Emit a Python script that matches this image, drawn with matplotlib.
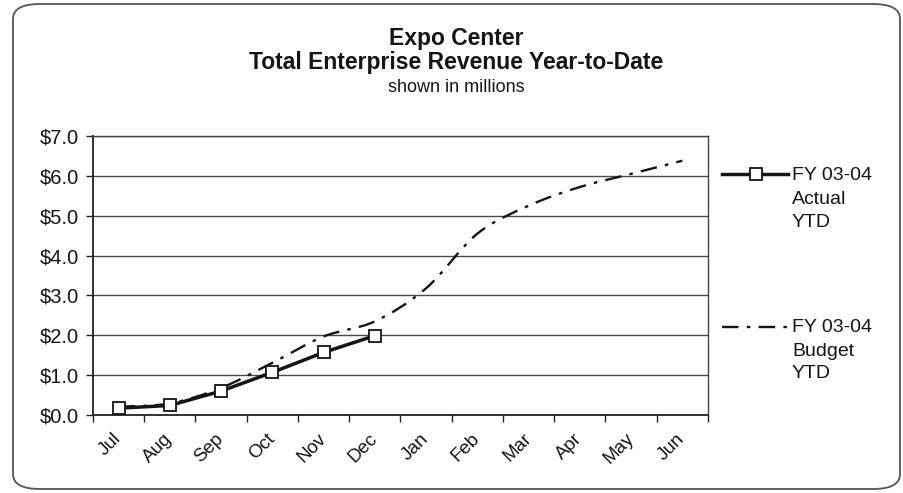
import matplotlib
matplotlib.use("Agg")
import matplotlib.pyplot as plt
import matplotlib.transforms as mtransforms
from matplotlib.path import Path
from matplotlib.patches import PathPatch, FancyBboxPatch
from matplotlib.lines import Line2D
import numpy as np

plt.rcParams['font.family'] = ['Liberation Sans', 'DejaVu Sans']

months = ["Jul", "Aug", "Sep", "Oct", "Nov", "Dec",
          "Jan", "Feb", "Mar", "Apr", "May", "Jun"]
actual_ytd = [0.17, 0.24, 0.60, 1.07, 1.57, 1.99]
budget_ytd = [0.21, 0.29, 0.68, 1.31, 1.97, 2.35,
              3.18, 4.55, 5.25, 5.72, 6.05, 6.38]
y_ticks = [0, 1, 2, 3, 4, 5, 6, 7]

INK = "#151515"
W, H = 904, 493

fig = plt.figure(figsize=(W / 100, H / 100), dpi=100)
fig.patch.set_facecolor("white")

# rounded chart-area border
frame = FancyBboxPatch((13 / W, 4 / H), (900 - 13) / W, (489 - 4) / H,
                       boxstyle="round,pad=0,rounding_size=0.03",
                       transform=fig.transFigure, fill=False,
                       edgecolor="#555555", linewidth=1.3)
fig.patches.append(frame)

ax = fig.add_axes([93 / W, 1 - 415 / H, (708 - 93) / W, (415 - 136) / H])
ax.set_xlim(-0.5, len(months) - 0.5)
ax.set_ylim(0, 7)

# gridlines and frame
ax.set_yticks(y_ticks)
ax.set_yticklabels([f"${v:.1f}" for v in y_ticks], fontsize=14.5, color=INK)
ax.yaxis.grid(True, color="#4a4a4a", linewidth=1.0)
ax.set_axisbelow(True)
for side in ["left", "bottom"]:
    ax.spines[side].set_color("#222222")
    ax.spines[side].set_linewidth(1.3)
for side in ["top", "right"]:
    ax.spines[side].set_color("#444444")
    ax.spines[side].set_linewidth(1.0)
ax.tick_params(axis="y", direction="out", length=5, width=1.0, color="#222222", pad=5)

# category boundaries get tick marks, centres get labels
x = np.arange(len(months))
ax.set_xticks(np.arange(-0.5, len(months), 1.0))
ax.set_xticklabels([])
ax.tick_params(axis="x", which="major", direction="out", length=5, width=1.0, color="#222222")
ax.set_xticks(x, minor=True)
ax.set_xticklabels(months, minor=True, fontsize=13.5, rotation=45, color=INK,
                   ha="right", va="top", rotation_mode="anchor")
ax.tick_params(axis="x", which="minor", length=0, pad=11)
shift = mtransforms.ScaledTranslation(-6 / 100, 0, fig.dpi_scale_trans)
for lab in ax.get_xticklabels(minor=True):
    lab.set_transform(lab.get_transform() + shift)

# smoothed budget curve (Catmull-Rom style Bezier through the monthly values)
bx = np.arange(len(budget_ytd), dtype=float)
by = np.asarray(budget_ytd, dtype=float)
verts = [(bx[0], by[0])]
codes = [Path.MOVETO]
n = len(bx)
for i in range(n - 1):
    p0 = (bx[max(i - 1, 0)], by[max(i - 1, 0)])
    p1 = (bx[i], by[i])
    p2 = (bx[i + 1], by[i + 1])
    p3 = (bx[min(i + 2, n - 1)], by[min(i + 2, n - 1)])
    c1 = (p1[0] + (p2[0] - p0[0]) / 6, p1[1] + (p2[1] - p0[1]) / 6)
    c2 = (p2[0] - (p3[0] - p1[0]) / 6, p2[1] - (p3[1] - p1[1]) / 6)
    verts += [c1, c2, p2]
    codes += [Path.CURVE4] * 3
BUDGET_DASH = (0, (7, 3.5, 1.5, 3.5))
budget_patch = PathPatch(Path(verts, codes), fill=False, edgecolor=INK,
                         linewidth=1.7, linestyle=BUDGET_DASH, zorder=3)
ax.add_patch(budget_patch)

ax.plot(np.arange(len(actual_ytd)), actual_ytd, color=INK, linewidth=2.5,
        marker="s", markersize=8, markerfacecolor="white",
        markeredgecolor=INK, markeredgewidth=1.3, zorder=4)

# titles
cx = 456 / W
fig.text(cx, 1 - 38 / H, "Expo Center", ha="center", va="center",
         fontsize=16.5, fontweight="bold", color=INK)
fig.text(cx, 1 - 62 / H, "Total Enterprise Revenue Year-to-Date",
         ha="center", va="center", fontsize=16.5, fontweight="bold", color=INK)
fig.text(cx, 1 - 87 / H, "shown in millions", ha="center", va="center",
         fontsize=13, color=INK)

# legend drawn at the right of the plot area
def legend_entry(y_line, y_text, handle_kw, lines, with_marker=False):
    yf = 1 - y_line / H
    fig.add_artist(Line2D([722 / W, 756 / W, 788 / W], [yf, yf, yf],
                          transform=fig.transFigure, **handle_kw))
    if with_marker:
        fig.add_artist(Line2D([756 / W], [yf], transform=fig.transFigure,
                              linestyle="none", marker="s", markersize=8,
                              markerfacecolor="white", markeredgecolor=INK,
                              markeredgewidth=1.3))
    for k, t in enumerate(lines):
        fig.text(792 / W, 1 - (y_text + 23 * k) / H, t, ha="left", va="center",
                 fontsize=14, color=INK)

legend_entry(174, 176, dict(color=INK, linewidth=2.5),
             ["FY 03-04", "Actual", "YTD"], with_marker=True)
legend_entry(327, 328, dict(color=INK, linewidth=1.7, linestyle=BUDGET_DASH),
             ["FY 03-04", "Budget", "YTD"])

fig.savefig("out.png", dpi=100, facecolor="white")
